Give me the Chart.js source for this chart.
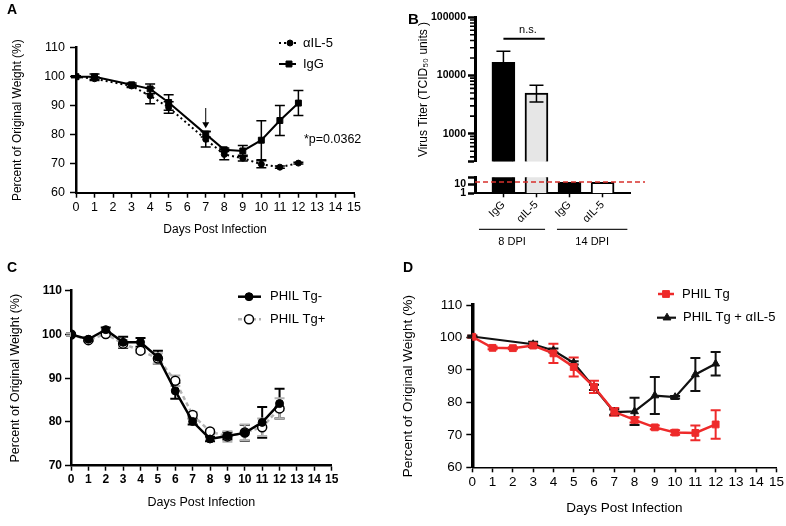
<!DOCTYPE html>
<html lang="en">
<head>
<meta charset="UTF-8">
<title>Weight loss and virus titer</title>
<script src="https://cdn.jsdelivr.net/npm/chart.js"></script>
<style>
  body { margin: 0; background: #fff; }
  #page { position: relative; width: 786px; height: 526px; overflow: hidden; font-family: Arial, "Liberation Sans", sans-serif; }
  canvas { position: absolute; }
  .tag { position: absolute; font-weight: bold; line-height: 1; z-index: 2; }
</style>
</head>
<body>
<div id="page">
  <canvas id="chartA" width="390" height="250" style="left:0;top:0"></canvas>
  <canvas id="chartB1" width="250" height="170" style="left:400px;top:0"></canvas>
  <canvas id="chartB2" width="250" height="91" style="left:400px;top:169px"></canvas>
  <canvas id="chartC" width="390" height="256" style="left:0;top:270px"></canvas>
  <canvas id="chartD" width="396" height="256" style="left:390px;top:270px"></canvas>
  <div class="tag" style="left:7px;top:2px;font-size:14px">A</div>
  <div class="tag" style="left:408px;top:11px;font-size:15px">B</div>
  <div class="tag" style="left:7px;top:260px;font-size:14px">C</div>
  <div class="tag" style="left:403px;top:260px;font-size:14px">D</div>
</div>

<script>
// ---- data ----
const dayTicks = [0, 1, 2, 3, 4, 5, 6, 7, 8, 9, 10, 11, 12, 13, 14, 15];

// A: weight loss, anti-IL-5 vs IgG
const daysA = [0, 1, 3, 4, 5, 7, 8, 9, 10, 11, 12];
const il5A = [100, 99.3, 96.8, 93.4, 89.4, 78.4, 73.2, 71.9, 69.8, 68.8, 70.2];
const il5ErrA = [0.3, 0.6, 0.5, 2.7, 2.0, 2.6, 1.8, 1.0, 1.2, 0.4, 0.3];
const iggA = [100, 100, 97.2, 95.8, 91.1, 80.2, 74.8, 74.4, 78.1, 84.9, 90.9];
const iggErrA = [0.3, 0.9, 0.6, 1.7, 2.7, 1.0, 0.6, 1.9, 6.7, 5.2, 4.3];
const weightTicksA = [60, 70, 80, 90, 100, 110];

// B: virus titer
const titerLabels = ['IgG', 'αIL-5', 'IgG', 'αIL-5'];
const titerValues = [16900, 5000, 17, 17];
const titerErrLow = [7800, 3500, null, null];
const titerErrHigh = [26000, 6800, null, null];
const groupLabels = ['8 DPI', '14 DPI'];
const detectionLimit = 18;
const titerTicksHigh = [1000, 10000, 100000];
const titerTicksLow = [1, 10];

// C: PHIL Tg- vs Tg+
const daysC = [0, 1, 2, 3, 4, 5, 6, 7, 8, 9, 10, 11, 12];
const tgNegC = [100, 98.9, 101.1, 98.2, 98.2, 94.8, 87.1, 80.1, 76.1, 76.8, 77.5, 79.9, 84.2];
const tgNegErrC = [0.3, 0.4, 0.5, 1.3, 1.0, 1.5, 1.8, 0.7, 0.5, 0.8, 1.8, 3.5, 3.4];
const tgPosC = [100, 98.7, 100.1, 97.9, 96.3, 94.5, 89.4, 81.6, 77.8, 76.7, 77.6, 78.8, 83.1];
const tgPosErrC = [0.3, 0.3, 0.4, 0.8, 0.6, 1.2, 1.2, 0.6, 0.5, 1.2, 1.8, 2.0, 2.3];
const weightTicksC = [70, 80, 90, 100, 110];

// D: PHIL Tg vs PHIL Tg + anti-IL-5
const daysTgD = [0, 1, 2, 3, 4, 5, 6, 7, 8, 9, 10, 11, 12];
const philTgD = [100.2, 96.8, 96.7, 97.5, 95.1, 90.9, 84.8, 77.1, 74.6, 72.3, 70.7, 70.6, 73.2];
const philTgErrD = [0.3, 0.4, 0.3, 0.5, 3.0, 2.9, 1.9, 1.2, 0.8, 0.6, 0.7, 2.3, 4.4];
const daysIl5D = [0, 3, 4, 5, 6, 7, 8, 9, 10, 11, 12];
const philIl5D = [100.3, 97.9, 96.0, 92.2, 84.6, 77.0, 77.2, 82.1, 81.6, 88.6, 91.9];
const philIl5ErrD = [0.3, 0.8, 0.6, 0.5, 0.8, 0.8, 4.2, 5.7, 0.4, 5.1, 3.6];
const weightTicksD = [60, 70, 80, 90, 100, 110];

// ---- helpers ----
const ARIAL = 'Arial, "Liberation Sans", sans-serif';
Chart.defaults.font.family = ARIAL;
Chart.defaults.color = '#000';
Chart.defaults.animation = false;

const toPoints = (xs, ys) => xs.map((x, i) => ({x: x, y: ys[i]}));

// error bars drawn from each dataset's `errors` array
function drawErrors(chart) {
  const ctx = chart.ctx;
  chart.data.datasets.forEach((ds, di) => {
    if (!ds.errors) return;
    const meta = chart.getDatasetMeta(di);
    const xs = chart.scales[meta.xAxisID], ys = chart.scales[meta.yAxisID];
    ctx.save();
    ctx.strokeStyle = ds.errorColor || '#000';
    ctx.lineWidth = ds.errorWidth || 1.5;
    ds.data.forEach((pt, i) => {
      const e = ds.errors[i];
      if (e == null || pt.y == null) return;
      const lo = Array.isArray(e) ? e[0] : pt.y - e;
      const hi = Array.isArray(e) ? e[1] : pt.y + e;
      const x = xs.getPixelForValue(pt.x);
      const y1 = ys.getPixelForValue(lo), y2 = ys.getPixelForValue(hi);
      const c = ds.capHalf || 5;
      ctx.beginPath();
      ctx.moveTo(x, y1); ctx.lineTo(x, y2);
      ctx.moveTo(x - c, y1); ctx.lineTo(x + c, y1);
      ctx.moveTo(x - c, y2); ctx.lineTo(x + c, y2);
      ctx.stroke();
    });
    ctx.restore();
  });
}
const errorBars = {
  id: 'errorBars',
  beforeDatasetsDraw(chart, args, opts) { if (!opts.after) drawErrors(chart); },
  afterDatasetsDraw(chart, args, opts) { if (opts.after) drawErrors(chart); }
};

// small legend: line sample + marker + label, styled from the dataset
const keyPlugin = {
  id: 'key',
  afterDraw(chart, args, opts) {
    const ctx = chart.ctx;
    (opts.items || []).forEach(it => {
      const ds = chart.data.datasets[it.dataset];
      ctx.save();
      ctx.strokeStyle = ds.borderColor;
      ctx.lineWidth = ds.borderWidth;
      ctx.setLineDash(ds.borderDash || []);
      ctx.beginPath(); ctx.moveTo(it.x0, it.y); ctx.lineTo(it.x1, it.y); ctx.stroke();
      ctx.setLineDash([]);
      ctx.fillStyle = ds.pointBackgroundColor;
      ctx.strokeStyle = ds.pointBorderColor;
      ctx.lineWidth = ds.pointBorderWidth;
      Chart.helpers.drawPoint(ctx, {pointStyle: ds.pointStyle, radius: ds.pointRadius, borderWidth: ds.pointBorderWidth, rotation: 0}, it.xm, it.y);
      ctx.fillStyle = '#000';
      ctx.font = opts.font;
      ctx.textBaseline = 'middle';
      ctx.fillText(ds.label, it.xt, it.y);
      ctx.restore();
    });
  }
};

function weightScales(p) {
  return {
    x: {
      type: 'linear', min: 0, max: 15,
      afterFit: s => { s.height = p.xHeight; },
      afterBuildTicks: s => { s.ticks = dayTicks.map(v => ({value: v})); },
      ticks: {font: p.tickFont, padding: p.xPad, autoSkip: false, maxRotation: 0},
      grid: {drawOnChartArea: false, tickLength: 5, tickWidth: 1.5, tickColor: '#000'},
      border: {color: '#000', width: p.xBorder},
      title: {display: true, text: 'Days Post Infection', font: p.titleFont, padding: {top: 0, bottom: p.xTitlePad}}
    },
    y: {
      type: 'linear', min: p.yTicks[0], max: p.yTicks[p.yTicks.length - 1],
      afterFit: s => { s.width = p.yWidth; },
      afterBuildTicks: s => { s.ticks = p.yTicks.map(v => ({value: v})); },
      ticks: {font: p.tickFont, padding: p.yPad, autoSkip: false},
      grid: {drawOnChartArea: false, tickLength: 6, tickWidth: 1.5, tickColor: '#000'},
      border: {color: '#000', width: p.yBorder},
      title: {display: true, text: 'Percent of Original Weight (%)', font: p.titleFont, padding: {top: p.yTitlePad, bottom: 0}}
    }
  };
}

// ---- A ----
new Chart(document.getElementById('chartA'), {
  type: 'line',
  data: {
    datasets: [{
      label: 'αIL-5', data: toPoints(daysA, il5A), errors: il5ErrA, capHalf: 5,
      borderColor: '#000', borderWidth: 2, borderDash: [2, 3],
      pointStyle: 'circle', pointRadius: 3, pointBackgroundColor: '#000', pointBorderColor: '#000', pointBorderWidth: 1
    }, {
      label: 'IgG', data: toPoints(daysA, iggA), errors: iggErrA, capHalf: 5,
      borderColor: '#000', borderWidth: 2,
      pointStyle: 'rect', pointRadius: 4.2, pointBackgroundColor: '#000', pointBorderColor: '#000', pointBorderWidth: 1
    }]
  },
  options: {
    responsive: false,
    layout: {padding: {top: 47.7, right: 36, bottom: 0, left: 0}},
    plugins: {
      legend: {display: false}, tooltip: {enabled: false},
      key: {font: '13px ' + ARIAL, items: [
        {dataset: 0, x0: 279, x1: 296, xm: 290, xt: 303, y: 43},
        {dataset: 1, x0: 279, x1: 296, xm: 289, xt: 303, y: 64}
      ]}
    },
    scales: weightScales({
      yTicks: weightTicksA, yWidth: 76, xHeight: 57.3, xBorder: 2, yBorder: 2.5,
      tickFont: {size: 12.5}, titleFont: {size: 12}, xPad: 2, yPad: 5, xTitlePad: 13, yTitlePad: 10
    })
  },
  plugins: [errorBars, keyPlugin, {
    id: 'notesA',
    afterDraw(chart) {
      const {ctx, scales: {x, y}} = chart;
      // arrow at day 7
      const ax = x.getPixelForValue(7), y0 = y.getPixelForValue(89.2), y1 = y.getPixelForValue(82.2);
      ctx.save();
      ctx.strokeStyle = '#000'; ctx.fillStyle = '#000'; ctx.lineWidth = 1;
      ctx.beginPath(); ctx.moveTo(ax, y0); ctx.lineTo(ax, y1 - 5); ctx.stroke();
      ctx.beginPath(); ctx.moveTo(ax - 3.5, y1 - 6); ctx.lineTo(ax + 3.5, y1 - 6); ctx.lineTo(ax, y1); ctx.closePath(); ctx.fill();
      ctx.font = '12.5px ' + ARIAL; ctx.textBaseline = 'middle';
      ctx.fillText('*p=0.0362', x.getPixelForValue(12.3), y.getPixelForValue(78.5));
      ctx.restore();
    }
  }]
});

// ---- B (broken log axis: upper and lower parts) ----
const barFills = ['#000', '#e6e6e6', '#000', '#fff'];
const upperMin = 330;
const titerPoints = titerValues.map((v, i) => ({x: i, y: v}));
const titerPointsUpper = titerValues.map((v, i) => ({x: i, y: v >= upperMin ? v : null}));
const titerErrors = titerValues.map((v, i) => titerErrHigh[i] == null ? null : [titerErrLow[i], titerErrHigh[i]]);
const barX = {type: 'linear', min: -0.86, max: 3.83, offset: false, grid: {offset: false, drawOnChartArea: false}};

new Chart(document.getElementById('chartB1'), {
  type: 'bar',
  data: {datasets: [{
    label: 'Virus titer', data: titerPointsUpper, errors: titerErrors, capHalf: 7, errorWidth: 1.5,
    backgroundColor: barFills, borderColor: '#000', borderWidth: 2, barThickness: 23, clip: 0
  }]},
  options: {
    responsive: false,
    layout: {padding: {top: 17.3, right: 20, bottom: 7, left: 0}},
    plugins: {legend: {display: false}, tooltip: {enabled: false}, errorBars: {after: true}},
    scales: {
      x: Object.assign({display: false}, barX),
      y: {
        type: 'logarithmic', min: upperMin, max: 100000,
        afterFit: s => { s.width = 75; },
        afterBuildTicks: s => { s.ticks = [s.min].concat(titerTicksHigh).map(v => ({value: v})); },
        ticks: {font: {size: 10.5, weight: 'bold'}, padding: 2, autoSkip: false,
          callback: v => titerTicksHigh.includes(v) ? String(v) : ''},
        grid: {drawOnChartArea: false, tickLength: 7, tickWidth: 2.5, tickColor: '#000'},
        border: {color: '#000', width: 3},
        title: {display: true, text: 'Virus Titer (TCID₅₀ units )', font: {size: 12}, padding: {top: 16, bottom: 0}}
      }
    }
  },
  plugins: [errorBars, {
    id: 'minorTicksAndNs',
    afterDraw(chart) {
      const {ctx, scales: {x, y}} = chart;
      ctx.save();
      // minor log ticks between the labelled decades
      ctx.strokeStyle = '#000'; ctx.lineWidth = 1.6;
      ctx.beginPath();
      for (let d = 100; d < y.max; d *= 10) {
        for (let k = 2; k < 10; k++) {
          const v = k * d;
          if (v <= y.min || v >= y.max) continue;
          const py = y.getPixelForValue(v);
          ctx.moveTo(y.right - 5, py); ctx.lineTo(y.right + 1, py);
        }
      }
      ctx.stroke();
      // n.s. bracket
      const yy = y.getPixelForValue(42700);
      ctx.lineWidth = 2;
      ctx.beginPath(); ctx.moveTo(x.getPixelForValue(0), yy); ctx.lineTo(x.getPixelForValue(1.25), yy); ctx.stroke();
      ctx.fillStyle = '#000'; ctx.font = '11px ' + ARIAL; ctx.textAlign = 'center'; ctx.textBaseline = 'bottom';
      ctx.fillText('n.s.', x.getPixelForValue(0.74), yy - 3);
      ctx.restore();
    }
  }]
});

new Chart(document.getElementById('chartB2'), {
  type: 'bar',
  data: {datasets: [{
    label: 'Virus titer', data: titerPoints,
    backgroundColor: barFills, borderColor: '#000', borderWidth: 2, barThickness: 23, clip: 0
  }]},
  options: {
    responsive: false,
    layout: {padding: {top: 0, right: 20, bottom: 0, left: 0}},
    plugins: {legend: {display: false}, tooltip: {enabled: false}},
    scales: {
      x: Object.assign({}, barX, {
        afterFit: s => { s.height = 66.7; },
        afterBuildTicks: s => { s.ticks = titerLabels.map((_, i) => ({value: i})); },
        ticks: {font: {size: 11}, padding: 1, autoSkip: false, minRotation: 45, maxRotation: 45,
          callback: v => titerLabels[v]},
        grid: {offset: false, drawOnChartArea: false, tickLength: 4, tickWidth: 1.5, tickColor: '#000'},
        border: {color: '#000', width: 2}
      }),
      y: {
        type: 'logarithmic', min: 1, max: 60,
        afterFit: s => { s.width = 75; },
        afterBuildTicks: s => { s.ticks = titerTicksLow.concat([s.max]).map(v => ({value: v})); },
        ticks: {font: {size: 10.5, weight: 'bold'}, padding: 2, autoSkip: false,
          callback: v => titerTicksLow.includes(v) ? String(v) : ''},
        grid: {drawOnChartArea: false, tickLength: 7, tickWidth: 2.5, tickColor: '#000'},
        border: {color: '#000', width: 3}
      }
    }
  },
  plugins: [{
    id: 'limitAndGroups',
    afterDraw(chart) {
      const {ctx, chartArea, scales: {x, y}} = chart;
      const yl = y.getPixelForValue(detectionLimit);
      ctx.save();
      ctx.strokeStyle = '#d8312c'; ctx.lineWidth = 1.5; ctx.setLineDash([5, 3]);
      ctx.beginPath(); ctx.moveTo(chartArea.left, yl); ctx.lineTo(chartArea.right + 15, yl); ctx.stroke();
      ctx.setLineDash([]);
      const spans = [[-0.74, 1.26], [1.62, 3.75]];
      const gy = chartArea.bottom + 36;
      ctx.strokeStyle = '#222'; ctx.lineWidth = 1.3;
      ctx.fillStyle = '#000'; ctx.font = '11px ' + ARIAL; ctx.textAlign = 'center'; ctx.textBaseline = 'middle';
      groupLabels.forEach((g, i) => {
        const a = x.getPixelForValue(spans[i][0]), b = x.getPixelForValue(spans[i][1]);
        ctx.beginPath(); ctx.moveTo(a, gy); ctx.lineTo(b, gy); ctx.stroke();
        ctx.fillText(g, (a + b) / 2, gy + 13);
      });
      ctx.restore();
    }
  }]
});

// ---- C ----
new Chart(document.getElementById('chartC'), {
  type: 'line',
  data: {
    datasets: [{
      label: 'PHIL Tg-', data: toPoints(daysC, tgNegC), errors: tgNegErrC, errorColor: '#000', errorWidth: 2, capHalf: 5,
      borderColor: '#000', borderWidth: 2.5,
      pointStyle: 'circle', pointRadius: 4, pointBackgroundColor: '#000', pointBorderColor: '#000', pointBorderWidth: 1
    }, {
      label: 'PHIL Tg+', data: toPoints(daysC, tgPosC), errors: tgPosErrC, errorColor: '#b3b3b3', errorWidth: 2, capHalf: 5,
      borderColor: '#b3b3b3', borderWidth: 2.5, borderDash: [4, 3],
      pointStyle: 'circle', pointRadius: 4.5, pointBackgroundColor: '#fff', pointBorderColor: '#000', pointBorderWidth: 1.5
    }]
  },
  options: {
    responsive: false,
    layout: {padding: {top: 20.7, right: 58.3, bottom: 0, left: 0}},
    plugins: {
      legend: {display: false}, tooltip: {enabled: false},
      key: {font: '13px ' + ARIAL, items: [
        {dataset: 0, x0: 238, x1: 261, xm: 249, xt: 270, y: 26.7},
        {dataset: 1, x0: 238, x1: 261, xm: 249, xt: 270, y: 49.3}
      ]}
    },
    scales: weightScales({
      yTicks: weightTicksC, yWidth: 71, xHeight: 60.3, xBorder: 2.5, yBorder: 2.5,
      tickFont: {size: 12, weight: 'bold'}, titleFont: {size: 12.5}, xPad: 2, yPad: 3, xTitlePad: 15.8, yTitlePad: 8.2
    })
  },
  plugins: [errorBars, keyPlugin]
});

// ---- D ----
new Chart(document.getElementById('chartD'), {
  type: 'line',
  data: {
    datasets: [{
      label: 'PHIL Tg', data: toPoints(daysTgD, philTgD), errors: philTgErrD, errorColor: '#ee2a2a', errorWidth: 2, capHalf: 5,
      borderColor: '#ee2a2a', borderWidth: 2.5,
      pointStyle: 'rect', pointRadius: 4.8, pointBackgroundColor: '#ee2a2a', pointBorderColor: '#ee2a2a', pointBorderWidth: 1
    }, {
      label: 'PHIL Tg + αIL-5', data: toPoints(daysIl5D, philIl5D), errors: philIl5ErrD, errorColor: '#111', errorWidth: 2, capHalf: 5,
      borderColor: '#111', borderWidth: 2.2,
      pointStyle: 'triangle', pointRadius: 4.5, pointBackgroundColor: '#111', pointBorderColor: '#111', pointBorderWidth: 1
    }]
  },
  options: {
    responsive: false,
    layout: {padding: {top: 35, right: 9.3, bottom: 0, left: 0}},
    plugins: {
      legend: {display: false}, tooltip: {enabled: false},
      key: {font: '13px ' + ARIAL, items: [
        {dataset: 0, x0: 268, x1: 284, xm: 276, xt: 292, y: 24},
        {dataset: 1, x0: 267, x1: 286, xm: 277, xt: 293, y: 47.7}
      ]}
    },
    scales: weightScales({
      yTicks: weightTicksD, yWidth: 82.3, xHeight: 58.7, xBorder: 1.5, yBorder: 3.5,
      tickFont: {size: 13.5}, titleFont: {size: 13.5}, xPad: 2, yPad: 4, xTitlePad: 9.9, yTitlePad: 9.9
    })
  },
  plugins: [errorBars, keyPlugin]
});
</script>
</body>
</html>
